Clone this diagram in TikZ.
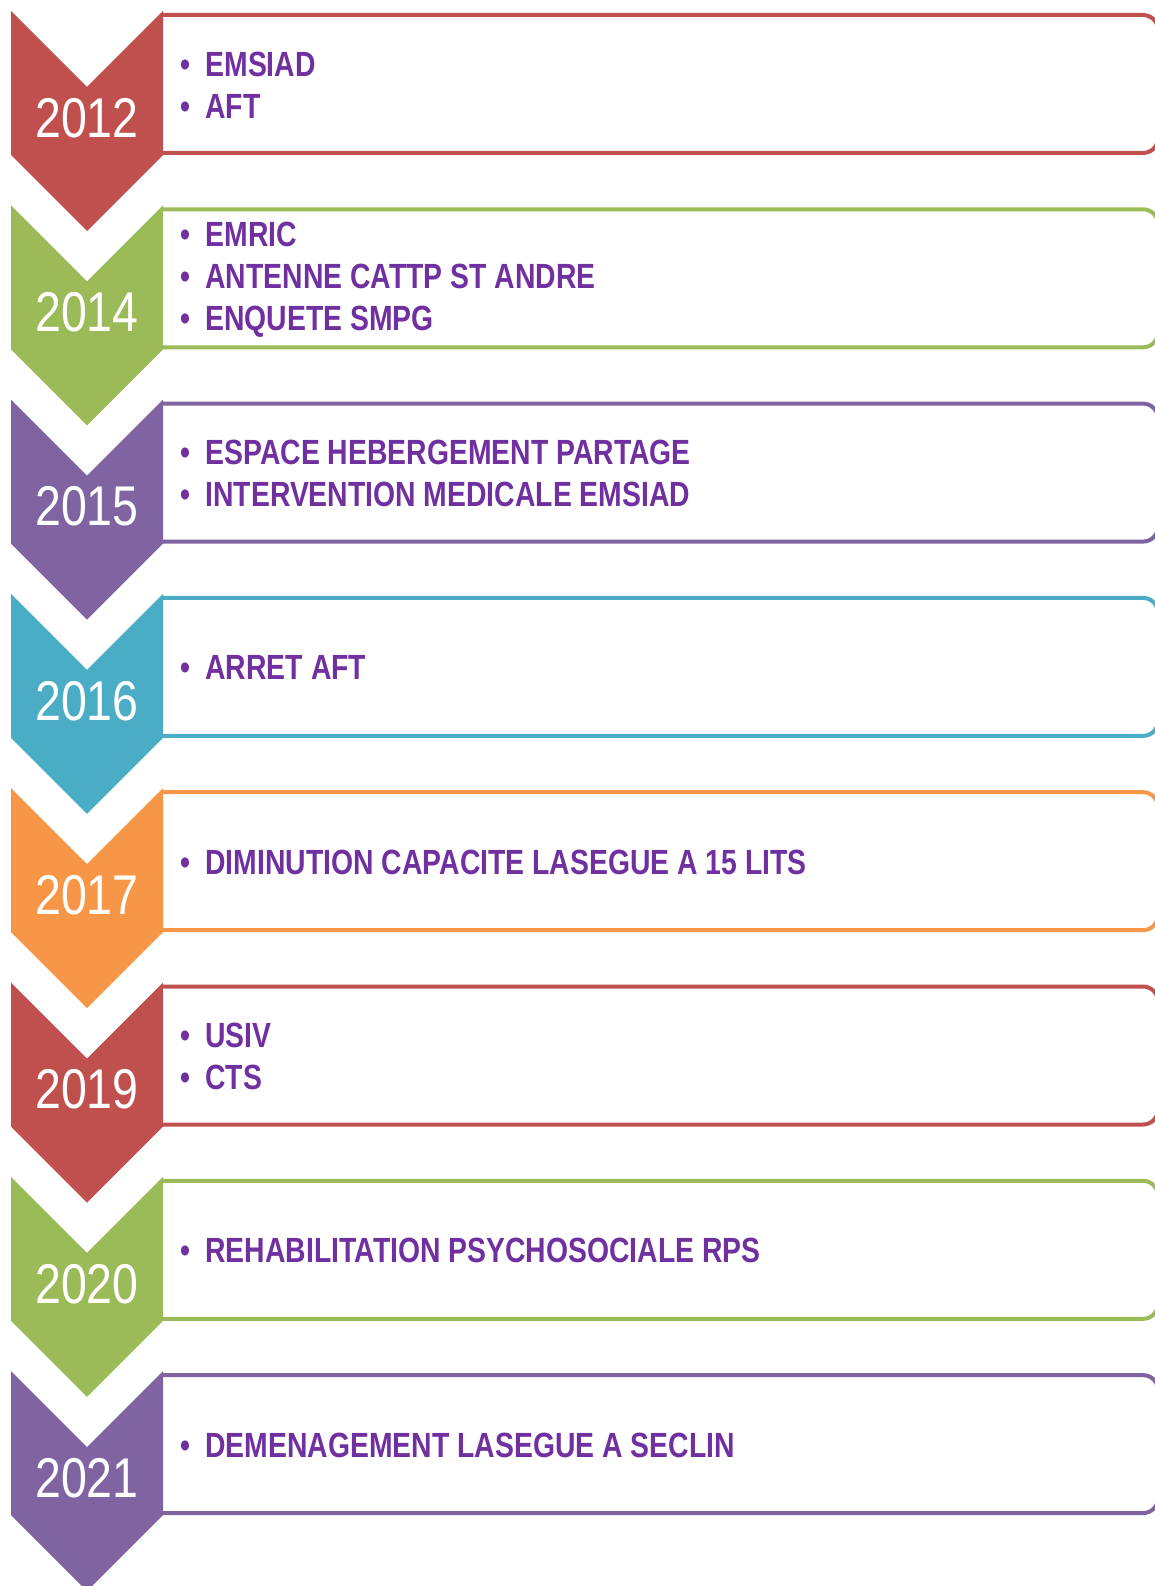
\documentclass[tikz,border=0pt]{standalone}
\usepackage{fontspec}
\usetikzlibrary{positioning}
\newfontfamily\narrowfont[FakeStretch=0.81]{Liberation Sans}
\newfontfamily\yearfont[FakeStretch=0.83]{Liberation Sans}

\definecolor{cred}{HTML}{C0504D}
\definecolor{cgreen}{HTML}{9BBB59}
\definecolor{cpurple}{HTML}{8064A2}
\definecolor{cblue}{HTML}{4BACC6}
\definecolor{corange}{HTML}{F79646}
\definecolor{ctext}{HTML}{7030A0}

\begin{document}
\begin{tikzpicture}[x=1pt, y=1pt,
	year/.style = {text=white,
		font=\yearfont\fontsize{56}{60}\selectfont},
	items/.style = {anchor=west, align=left, text=ctext,
		font=\narrowfont\bfseries\fontsize{35}{42}\selectfont},
	box/.style = {draw=#1, line width=4pt, rounded corners=15pt}]
	
	\useasboundingbox (0,0) rectangle (1154,-1586);
	
	% Chevrons and boxes
	\foreach \yr/\col [count=\i from 0] in {2012/cred, 2014/cgreen, 2015/cpurple,
		2016/cblue, 2017/corange, 2019/cred, 2020/cgreen, 2021/cpurple} {
		\pgfmathsetmacro\t{11+194.3*\i}
		\draw[box=\col] (161,-\t-4) -- (1158,-\t-4) -- (1158,-\t-142) -- (161,-\t-142);
		\fill[\col] (11,-\t) -- (87,-\t-76) -- (163,-\t) -- (163,-\t-144)
			-- (87,-\t-220) -- (11,-\t-144) -- cycle;
		\node[year] (y\yr) at (87,-\t-107) {\yr};
		\coordinate (b\yr) at (177,-\t-74);
	}
	
	% Item lists
	\node[items] (t2012) at (b2012) {\makebox[25pt][l]{•}EMSIAD\\\makebox[25pt][l]{•}AFT};
	\node[items] (t2014) at (b2014) {\makebox[25pt][l]{•}EMRIC\\\makebox[25pt][l]{•}ANTENNE CATTP ST ANDRE\\\makebox[25pt][l]{•}ENQUETE SMPG};
	\node[items] (t2015) at (b2015) {\makebox[25pt][l]{•}ESPACE HEBERGEMENT PARTAGE\\\makebox[25pt][l]{•}INTERVENTION MEDICALE EMSIAD};
	\node[items] (t2016) at (b2016) {\makebox[25pt][l]{•}ARRET AFT};
	\node[items] (t2017) at (b2017) {\makebox[25pt][l]{•}DIMINUTION CAPACITE LASEGUE A 15 LITS};
	\node[items] (t2019) at (b2019) {\makebox[25pt][l]{•}USIV\\\makebox[25pt][l]{•}CTS};
	\node[items] (t2020) at (b2020) {\makebox[25pt][l]{•}REHABILITATION PSYCHOSOCIALE RPS};
	\node[items] (t2021) at (b2021) {\makebox[25pt][l]{•}DEMENAGEMENT LASEGUE A SECLIN};
	
\end{tikzpicture}
\end{document}
